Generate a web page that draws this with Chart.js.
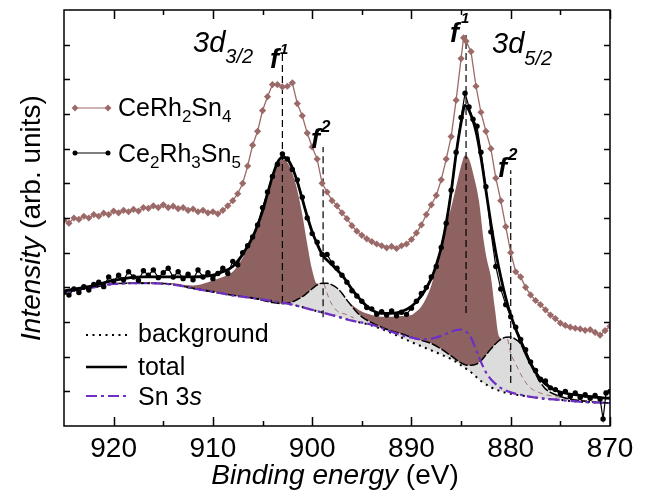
<!DOCTYPE html>
<html>
<head>
<meta charset="utf-8">
<script src="https://cdn.jsdelivr.net/npm/chart.js@4.4.1/dist/chart.umd.min.js"></script>
<style>
  html, body { margin: 0; background: #fff; }
  #wrap { width: 647px; height: 491px; }
</style>
</head>
<body>
<div id="wrap"><canvas id="xps" width="647" height="491"></canvas></div>
<script>
// binding energy (eV), intensity (arb. units) pairs
const ceRh2Sn4 = [
  [925,5.94],[924.5,5.85],[924,6.0],[923.5,5.96],[923,6.05],[922.5,6.0],[922,6.1],[921.5,6.05],
  [921,6.14],[920.5,6.1],[920,6.2],[919.5,6.15],[919,6.22],[918.5,6.18],[918,6.25],[917.5,6.2],
  [917,6.3],[916.5,6.28],[916,6.35],[915.5,6.3],[915,6.38],[914.5,6.3],[914,6.34],[913.5,6.27],
  [913,6.3],[912.5,6.22],[912,6.26],[911.5,6.18],[911,6.22],[910.5,6.15],[910,6.18],[909.5,6.12],
  [909,6.22],[908.5,6.35],[908,6.5],[907.5,6.7],[907,7.0],[906.5,7.5],[906,8.1],[905.5,8.5],
  [905,9.1],[904.5,9.5],[904,9.85],[903.5,9.85],[903,9.78],[902.5,9.8],[902,9.9],[901.5,9.3],
  [901,8.95],[900.5,8.45],[900,8.05],[899.5,7.7],[899,7.0],[898.5,6.75],[898,6.5],[897.5,6.35],
  [897,6.15],[896.5,5.98],[896,5.78],[895.5,5.62],[895,5.5],[894.5,5.4],[894,5.32],[893.5,5.25],
  [893,5.2],[892.5,5.14],[892,5.18],[891.5,5.12],[891,5.2],[890.5,5.25],[890,5.38],[889.5,5.57],
  [889,5.8],[888.5,6.1],[888,6.38],[887.5,6.65],[887,7.1],[886.5,7.7],[886,8.35],[885.5,9.4],
  [885,10.6],[884.75,11.2],[884.5,11.1],[884,10.8],[883.5,9.8],[883,9.05],[882.5,8.5],[882,8.0],
  [881.5,7.15],[881,6.5],[880.5,5.75],[880,5.0],[879.5,4.45],[879,4.3],[878.5,4.0],[878,3.78],
  [877.5,3.62],[877,3.5],[876.5,3.35],[876,3.2],[875.5,3.1],[875,2.97],[874.5,2.9],[874,2.85],
  [873.5,2.82],[873,2.8],[872.5,2.76],[872,2.78],[871.5,2.7],[871,2.62],[870.5,2.75],[870,2.88]
];

const ce2Rh3Sn5 = [
  [925,3.85],[924.5,3.78],[924,3.95],[923.5,3.85],[923,4.02],[922.5,3.92],[922,4.08],[921.5,4.15],
  [921,4.02],[920.5,4.3],[920,4.18],[919.5,4.35],[919,4.22],[918.5,4.45],[918,4.3],[917.5,4.2],
  [917,4.48],[916.5,4.35],[916,4.5],[915.5,4.28],[915,4.42],[914.5,4.55],[914,4.3],[913.5,4.45],
  [913,4.25],[912.5,4.38],[912,4.22],[911.5,4.5],[911,4.3],[910.5,4.42],[910,4.25],[909.5,4.4],
  [909,4.55],[908.5,4.4],[908,4.75],[907.5,4.65],[907,5.0],[906.5,5.2],[906,5.45],[905.5,5.8],
  [905,6.3],[904.5,6.75],[904,7.2],[903.5,7.55],[903,7.85],[902.5,7.7],[902,7.4],[901.5,7.1],
  [901,6.6],[900.5,6.0],[900,5.55],[899.5,5.3],[899,4.95],[898.5,4.95],[898,4.7],[897.5,4.55],
  [897,4.35],[896.5,4.15],[896,3.9],[895.5,3.75],[895,3.6],[894.5,3.42],[894,3.38],[893.5,3.22],
  [893,3.3],[892.5,3.2],[892,3.32],[891.5,3.18],[891,3.28],[890.5,3.22],[890,3.4],[889.5,3.6],
  [889,3.82],[888.5,4.0],[888,4.3],[887.5,4.6],[887,5.15],[886.5,5.85],[886,6.8],[885.5,7.9],
  [885,8.9],[884.6,9.6],[884.2,9.2],[883.8,8.85],[883.4,8.65],[883,7.9],[882.5,6.9],[882,5.6],
  [881.5,4.6],[881,3.95],[880.5,3.5],[880,3.15],[879.5,2.85],[879,2.5],[878.5,2.2],[878,1.85],
  [877.5,1.6],[877,1.35],[876.5,1.3],[876,1.1],[875.5,1.05],[875,0.92],[874.5,1.0],[874,0.85],
  [873.5,0.95],[873,0.82],[872.5,0.9],[872,0.8],[871.5,0.88],[871,0.78],[870.7,0.2],[870.4,0.95],[870,1.0]
];

const totalFit = [
  [925,3.9],[922,4.05],[920,4.2],[917,4.3],[914,4.3],[912,4.3],[910,4.35],[909,4.45],[908,4.6],
  [907,4.95],[906,5.45],[905,6.2],[904.5,6.7],[904,7.2],[903.5,7.6],[903,7.75],[902.5,7.7],[902,7.45],
  [901.5,7.05],[901,6.55],[900.5,6.05],[900,5.6],[899.5,5.25],[899,4.95],[898,4.65],[897,4.35],
  [896,3.95],[895,3.6],[894,3.35],[893,3.25],[892,3.25],[891,3.3],[890,3.45],[889,3.75],[888,4.25],
  [887.5,4.65],[887,5.15],[886.5,5.85],[886,6.75],[885.5,7.85],[885,8.75],[884.6,9.25],[884.2,9.1],
  [883.5,8.5],[883,7.75],[882.5,6.8],[882,5.85],[881.5,5.0],[881,4.3],[880.5,3.7],[880,3.2],
  [879.5,2.8],[879,2.45],[878.5,2.1],[878,1.8],[877.5,1.55],[877,1.35],[876,1.1],[875,0.98],
  [873,0.88],[871,0.82],[870,0.8]
];

const background = [
  [925,3.87],[922,4.0],[920,4.1],[917,4.12],[914,4.08],[912,3.97],[910,3.87],[908,3.77],[906,3.69],
  [904,3.6],[902,3.5],[900,3.35],[898,3.2],[896,3.04],[894,2.9],[892,2.68],[891,2.55],[890,2.42],
  [889,2.3],[888,2.18],[887,2.06],[886,1.93],[885.5,1.85],[885,1.75],[884,1.55],[883,1.3],[882,1.12],
  [881,1.0],[880,0.93],[879,0.88],[878,0.84],[877,0.8],[875,0.75],[873,0.7],[870,0.66]
];

const sn3s = [
  [925,3.87],[922,4.0],[920,4.1],[917,4.12],[914,4.08],[912,3.97],[910,3.87],[908,3.77],[906,3.69],
  [904,3.6],[902,3.5],[900,3.35],[898,3.2],[896,3.04],[894,2.92],[892,2.72],[891,2.62],[890,2.55],
  [889,2.5],[888,2.52],[887,2.6],[886,2.72],[885.5,2.77],[885,2.78],[884.5,2.72],[884,2.55],
  [883.5,2.2],[883,1.85],[882.5,1.55],[882,1.35],[881,1.1],[880,0.97],[879,0.9],[878,0.84],
  [877,0.8],[875,0.75],[873,0.7],[870,0.66]
];

// background + f2 components (top of grey area, bottom of brown area)
const bgF2 = [
  [925,3.87],[922,4.0],[920,4.1],[917,4.12],[914,4.08],[912,3.97],[910,3.87],[908,3.77],[906,3.69],
  [905,3.63],[904,3.56],[903,3.53],[902.5,3.55],[902,3.58],[901.5,3.65],[901,3.73],[900.5,3.84],
  [900,3.96],[899.5,4.07],[899,4.12],[898.5,4.12],[898,4.07],[897.5,3.98],[897,3.83],[896.5,3.63],
  [896,3.45],[895.5,3.28],[895,3.15],[894,2.98],[893,2.85],[892,2.74],[891,2.66],[890,2.56],
  [889,2.47],[888,2.38],[887,2.22],[886,2.02],[885,1.82],[884.5,1.76],[884,1.75],[883.5,1.78],
  [883,1.88],[882.5,2.05],[882,2.22],[881.5,2.38],[881,2.5],[880.5,2.56],[880,2.57],[879.5,2.5],
  [879,2.37],[878.5,2.1],[878,1.8],[877.5,1.5],[877,1.25],[876.5,1.07],[876,0.97],[875,0.85],
  [874,0.77],[872,0.7],[870,0.66]
];

// top of the f1 (brown) components
const f1Top = [
  [925,3.89],[922,4.02],[920,4.12],[917,4.15],[914,4.12],[912,4.05],[911,4.1],[910,4.2],
  [909,4.3],[908,4.45],[907,4.85],[906,5.4],[905,6.1],[904.5,6.6],[904,7.1],[903.5,7.5],[903,7.7],
  [902.5,7.6],[902,7.3],[901.5,6.8],[901,6.1],[900.5,5.25],[900,4.5],[899.5,4.1],[899,4.12],
  [898.5,4.12],[898,4.07],[897.5,3.98],[897,3.83],[896.5,3.63],[896,3.5],[895,3.3],[894,3.2],
  [893,3.15],[892,3.15],[891,3.17],[890,3.2],[889.5,3.3],[889,3.45],[888.5,3.7],[888,4.05],
  [887.5,4.6],[887,5.1],[886.5,5.8],[886,6.3],[885.5,6.9],[885,7.5],[884.6,7.8],[884.2,7.7],
  [883.8,7.3],[883.2,6.5],[882.7,5.3],[882.4,4.8],[882,4.3],[881.6,3.4],[881.2,2.6],[880.9,2.52],[880.5,2.56]
];

const f2Line32 = [[898.8,4.1],[898.4,3.75],[898,3.5],[897.4,3.3],[896.6,3.22],[895.8,3.12]];
const f2Line52 = [[880.3,2.5],[880,2.1],[879.5,1.8],[879,1.5],[878.2,1.15],[877,0.95],[875.5,0.85],[873,0.75],[870.5,0.68]];

// peak markers: energy, lower and upper intensity
const peakMarks = [
  [903.0, 3.55, 10.85],
  [898.9, 3.14, 8.05],
  [884.5, 3.26, 11.28],
  [880.0, 1.24, 7.38]
];

const xTickValues = [920, 910, 900, 890, 880, 870];
const xMinorValues = [915, 905, 895, 885, 875];
const yTickValues = [1, 2, 3, 4, 5, 6, 7, 8, 9, 10, 11];

const BROWN = "#9b6a68";
const BROWN_FILL = "#8e6260";
const GREY_FILL = "#dcdcdc";
const PURPLE = "#6f2fc6";
const FONT = '"Liberation Sans", Arial, sans-serif';

const xy = a => a.map(([x, y]) => ({ x, y }));

const base = { pointRadius: 0, borderWidth: 1, fill: false, cubicInterpolationMode: "monotone" };

const datasets = [
  // 0 measured Ce2Rh3Sn5
  { data: xy(ce2Rh3Sn5), borderColor: "#000", borderWidth: 1.2, pointRadius: 2.7,
    pointBackgroundColor: "#000", pointBorderWidth: 0, fill: false, order: 0 },
  // 1 total fit
  { ...base, data: xy(totalFit), borderColor: "#000", borderWidth: 2.8, order: 1 },
  // 2 measured CeRh2Sn4
  { data: xy(ceRh2Sn4), borderColor: BROWN, borderWidth: 1.3, pointStyle: "rectRot", pointRadius: 3.6,
    pointBackgroundColor: BROWN, pointBorderColor: BROWN, pointBorderWidth: 0, fill: false, order: 2 },
  // 3 Sn 3s
  { ...base, data: xy(sn3s), borderColor: PURPLE, borderWidth: 2.2, borderDash: [11, 4, 3, 4], order: 3 },
  // 4 background + f2 line
  { ...base, data: xy(bgF2), borderColor: "#000", borderWidth: 1.5, borderDash: [9, 2], order: 5 },
  // 5,6 f2 inner lines
  { ...base, data: xy(f2Line32), borderColor: "#a27472", borderDash: [5, 4], order: 6 },
  { ...base, data: xy(f2Line52), borderColor: "#a27472", borderDash: [5, 4], order: 6 },
  // 7 background
  { ...base, data: xy(background), borderColor: "#000", borderWidth: 2, borderDash: [2, 4.5], order: 7 },
  // 8 brown f1 area (fills down to dataset 9)
  { ...base, data: xy(f1Top), borderWidth: 0, borderColor: "rgba(0,0,0,0)", fill: 9,
    backgroundColor: BROWN_FILL, order: 8 },
  // 9 grey f2 area (fills down to background, dataset 7)
  { ...base, data: xy(bgF2), borderWidth: 0, borderColor: "rgba(0,0,0,0)", fill: 7,
    backgroundColor: GREY_FILL, order: 9 }
];

peakMarks.forEach(([e, lo, hi]) => {
  datasets.push({ data: [{ x: e, y: lo }, { x: e, y: hi }], pointRadius: 0, borderColor: "#000",
    borderWidth: 1.2, borderDash: [7, 4], fill: false, order: 4 });
});

function rich(ctx, x, y, parts) {
  for (const p of parts) {
    ctx.font = p.f;
    ctx.fillText(p.t, x, y + (p.dy || 0));
    x += ctx.measureText(p.t).width + (p.gap || 0);
  }
  return x;
}
function richWidth(ctx, parts) {
  let w = 0;
  for (const p of parts) { ctx.font = p.f; w += ctx.measureText(p.t).width + (p.gap || 0); }
  return w;
}

const decor = {
  id: "decor",
  afterDraw(chart) {
    const { ctx, chartArea: a, scales: { x, y } } = chart;
    ctx.save();
    ctx.strokeStyle = "#000";
    ctx.fillStyle = "#000";
    ctx.lineWidth = 1.5;
    ctx.setLineDash([]);
    ctx.strokeRect(a.left, a.top, a.right - a.left, a.bottom - a.top);

    // inward ticks
    ctx.beginPath();
    const xt = (v, len) => {
      const px = Math.round(x.getPixelForValue(v)) + 0.5;
      ctx.moveTo(px, a.bottom); ctx.lineTo(px, a.bottom - len);
      ctx.moveTo(px, a.top); ctx.lineTo(px, a.top + len);
    };
    xTickValues.forEach(v => xt(v, 9));
    xMinorValues.forEach(v => xt(v, 5));
    yTickValues.forEach(v => {
      const py = Math.round(y.getPixelForValue(v)) + 0.5;
      ctx.moveTo(a.left, py); ctx.lineTo(a.left + 6, py);
      ctx.moveTo(a.right, py); ctx.lineTo(a.right - 6, py);
    });
    ctx.stroke();

    // tick labels
    ctx.font = "28px " + FONT;
    ctx.textAlign = "center";
    ctx.textBaseline = "alphabetic";
    xTickValues.forEach(v => ctx.fillText(String(v), x.getPixelForValue(v), 457));

    // axis titles
    ctx.textAlign = "left";
    const xTitle = [{ t: "Binding energy", f: "italic 28px " + FONT }, { t: " (eV)", f: "28px " + FONT }];
    rich(ctx, 335 - richWidth(ctx, xTitle) / 2, 484, xTitle);
    const yTitle = [{ t: "Intensity", f: "italic 28px " + FONT }, { t: " (arb. units)", f: "28px " + FONT }];
    ctx.save();
    ctx.translate(40, 218);
    ctx.rotate(-Math.PI / 2);
    rich(ctx, -richWidth(ctx, yTitle) / 2, 0, yTitle);
    ctx.restore();

    // peak labels
    const it = s => "italic " + s + "px " + FONT;
    const bi = s => "italic bold " + s + "px " + FONT;
    rich(ctx, 193, 52, [{ t: "3d", f: it(29) }, { t: "3/2", f: it(20), dy: 11 }]);
    rich(ctx, 492, 53, [{ t: "3d", f: it(29) }, { t: "5/2", f: it(20), dy: 12 }]);
    rich(ctx, 270, 68, [{ t: "f", f: bi(27), gap: 1 }, { t: "1", f: bi(15), dy: -14 }]);
    rich(ctx, 311, 148, [{ t: "f", f: bi(27), gap: 1 }, { t: "2", f: bi(17), dy: -16 }]);
    rich(ctx, 450, 42, [{ t: "f", f: bi(27), gap: 2 }, { t: "1", f: bi(15), dy: -19 }]);
    rich(ctx, 498, 177, [{ t: "f", f: bi(27), gap: 1 }, { t: "2", f: bi(17), dy: -17 }]);

    // legend (samples)
    const diamond = (cx, cy, r) => {
      ctx.beginPath();
      ctx.moveTo(cx, cy - r); ctx.lineTo(cx + r, cy); ctx.lineTo(cx, cy + r); ctx.lineTo(cx - r, cy);
      ctx.closePath(); ctx.fill();
    };
    ctx.lineWidth = 1.2;
    ctx.strokeStyle = BROWN; ctx.fillStyle = BROWN;
    ctx.beginPath(); ctx.moveTo(75, 108); ctx.lineTo(108, 108); ctx.stroke();
    diamond(75, 108, 3.4); diamond(108, 108, 3.4);
    ctx.strokeStyle = "#000"; ctx.fillStyle = "#000";
    ctx.beginPath(); ctx.moveTo(75, 153); ctx.lineTo(108, 153); ctx.stroke();
    ctx.beginPath(); ctx.arc(75, 153, 2.5, 0, 2 * Math.PI); ctx.fill();
    ctx.beginPath(); ctx.arc(108, 153, 2.5, 0, 2 * Math.PI); ctx.fill();

    const L = "25px " + FONT, S = "17px " + FONT;
    rich(ctx, 118, 116, [{ t: "CeRh", f: L }, { t: "2", f: S, dy: 6 }, { t: "Sn", f: L }, { t: "4", f: S, dy: 6 }]);
    rich(ctx, 118, 162, [{ t: "Ce", f: L }, { t: "2", f: S, dy: 6 }, { t: "Rh", f: L }, { t: "3", f: S, dy: 6 },
      { t: "Sn", f: L }, { t: "5", f: S, dy: 6 }]);

    ctx.lineWidth = 2; ctx.setLineDash([2, 4.5]);
    ctx.beginPath(); ctx.moveTo(86, 335); ctx.lineTo(128, 335); ctx.stroke();
    ctx.lineWidth = 2.6; ctx.setLineDash([]);
    ctx.beginPath(); ctx.moveTo(86, 367); ctx.lineTo(127, 367); ctx.stroke();
    ctx.strokeStyle = PURPLE; ctx.lineWidth = 2.2; ctx.setLineDash([11, 4, 3, 4]);
    ctx.beginPath(); ctx.moveTo(86, 396); ctx.lineTo(128, 396); ctx.stroke();
    ctx.setLineDash([]);
    ctx.fillStyle = "#000";
    rich(ctx, 138, 342, [{ t: "background", f: L }]);
    rich(ctx, 138, 375, [{ t: "total", f: L }]);
    rich(ctx, 138, 405, [{ t: "Sn 3", f: L }, { t: "s", f: "italic 25px " + FONT }]);
    ctx.restore();
  }
};

new Chart(document.getElementById("xps"), {
  type: "line",
  data: { datasets },
  options: {
    responsive: false,
    animation: false,
    parsing: true,
    layout: { padding: { left: 64, right: 37, top: 10, bottom: 65 } },
    scales: {
      x: { type: "linear", min: 870, max: 925, reverse: true, display: false },
      y: { type: "linear", min: 0, max: 12, display: false }
    },
    plugins: { legend: { display: false }, tooltip: { enabled: false } },
    elements: { line: { tension: 0 } }
  },
  plugins: [decor]
});
</script>
</body>
</html>
